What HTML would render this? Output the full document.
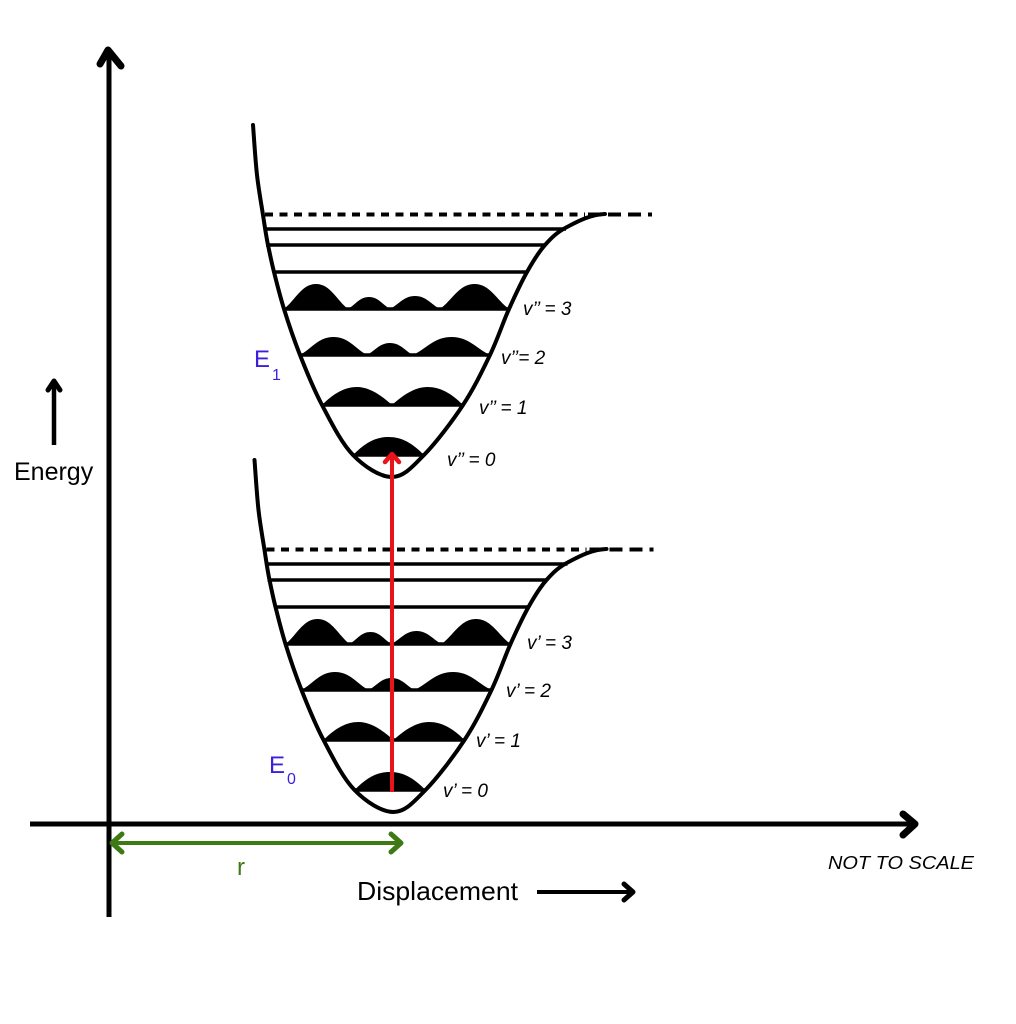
<!DOCTYPE html>
<html>
<head>
<meta charset="utf-8">
<style>
html,body{margin:0;padding:0;background:#fff;}
svg{display:block;}
text{font-family:"Liberation Sans",Arial,sans-serif;}
</style>
</head>
<body>
<svg width="1016" height="1024" viewBox="0 0 1016 1024" xmlns="http://www.w3.org/2000/svg">
<rect width="1016" height="1024" fill="#fff"/>
<defs>
<g id="well">
  <path d="M253,125 C253.7,133.3 255.3,160 257,175 C258.7,190 261.2,203.3 263,215 C264.8,226.7 266,235.5 268,245 C270,254.5 271.3,261.3 274,272 C276.7,282.7 279.7,295.2 284,309 C288.3,322.8 293.7,339 300,355 C306.3,371 313.2,388.3 322,405 C330.8,421.7 341.3,443 353,455 C364.7,467 380.2,477 392,477 C403.8,477 412.2,467 424,455 C435.8,443 452,421.7 463,405 C474,388.3 482.3,371 490,355 C497.7,339 502.8,322.8 509,309 C515.2,295.2 521,282.7 527,272 C533,261.3 538.3,252.5 545,245 C551.7,237.5 557,232.2 567,227 C577,221.8 590,214.5 605,214" fill="none" stroke="#000" stroke-width="4" stroke-linecap="round"/>
  <line x1="265" y1="214.5" x2="585" y2="214.5" stroke="#000" stroke-width="4" stroke-dasharray="8 6.5"/>
  <line x1="588" y1="214.5" x2="652" y2="214.5" stroke="#000" stroke-width="4" stroke-dasharray="13 7"/>
  <g stroke="#000" stroke-width="3.5">
    <line x1="265" y1="229" x2="566" y2="229"/>
    <line x1="266" y1="245" x2="545" y2="245"/>
    <line x1="274" y1="272" x2="527" y2="272"/>
    <line x1="284" y1="309" x2="509" y2="309"/>
    <line x1="300" y1="355" x2="490" y2="355"/>
    <line x1="322" y1="405" x2="463" y2="405"/>
    <line x1="353" y1="455" x2="424" y2="455"/>
  </g>
  <g fill="#000">
    <path d="M284 309 C295.2 300.25 301.6 284 316 284 C330.4 284 336.8 300.25 348 309Z"/>
    <path d="M348 309 C355.35 304.8 359.55 297 369 297 C378.45 297 382.65 304.8 390 309Z"/>
    <path d="M390 309 C398.75 304.45 403.75 296 415 296 C426.25 296 431.25 304.45 440 309Z"/>
    <path d="M440 309 C452.1 300.25 459 284 474.5 284 C490 284 496.9 300.25 509 309Z"/>
    <path d="M300 355 C311.7 348.7 318.4 337 333.5 337 C348.6 337 355.3 348.7 367 355Z"/>
    <path d="M367 355 C375 350.8 379.7 343 390 343 C400.3 343 405 350.8 413 355Z"/>
    <path d="M413 355 C426.5 348.7 434.2 337 451.5 337 C468.8 337 476.5 348.7 490 355Z"/>
    <path d="M322 405 C334 393 345 387 357 387 C369 387 381 395 392 405Z"/>
    <path d="M392 405 C403 395 415 387 427.5 387 C440 387 451 393 463 405Z"/>
    <path d="M353 455 C365 443 375 437 388.5 437 C402 437 412 443 424 455Z"/>
  </g>
</g>
</defs>

<line x1="109" y1="52" x2="109" y2="917" stroke="#000" stroke-width="5"/>
<polyline points="100,64 108,50 121,66" fill="none" stroke="#000" stroke-width="7" stroke-linecap="round" stroke-linejoin="round"/>
<line x1="30" y1="824" x2="912" y2="824" stroke="#000" stroke-width="5"/>
<polyline points="903,814 915,824 903,835" fill="none" stroke="#000" stroke-width="7" stroke-linecap="round" stroke-linejoin="round"/>

<use href="#well"/>
<use href="#well" transform="translate(1.5,335)"/>

<line x1="392" y1="792" x2="392" y2="457" stroke="#e8141a" stroke-width="4"/>
<polyline points="385,462 392,454 399,462" fill="none" stroke="#e8141a" stroke-width="4.5" stroke-linecap="round" stroke-linejoin="round"/>

<line x1="113" y1="843" x2="399" y2="843" stroke="#3d7a14" stroke-width="4"/>
<polyline points="122,834 112,843 122,852" fill="none" stroke="#3d7a14" stroke-width="5" stroke-linecap="round" stroke-linejoin="round"/>
<polyline points="391,834 401,843 391,852" fill="none" stroke="#3d7a14" stroke-width="5" stroke-linecap="round" stroke-linejoin="round"/>
<text x="237" y="875" font-size="24" fill="#3d7a14">r</text>

<line x1="54" y1="445" x2="54" y2="384" stroke="#000" stroke-width="4.5"/>
<polyline points="48,390 54,381 60,390" fill="none" stroke="#000" stroke-width="5" stroke-linecap="round" stroke-linejoin="round"/>
<text x="14" y="480" font-size="25" fill="#000">Energy</text>

<text x="357" y="900" font-size="26" fill="#000" textLength="161" lengthAdjust="spacingAndGlyphs">Displacement</text>
<line x1="537" y1="892" x2="630" y2="892" stroke="#000" stroke-width="4"/>
<polyline points="624,884 633,892 624,900" fill="none" stroke="#000" stroke-width="5" stroke-linecap="round" stroke-linejoin="round"/>

<text x="828" y="869" font-size="18" font-style="italic" fill="#000" textLength="146" lengthAdjust="spacingAndGlyphs">NOT TO SCALE</text>

<text x="254" y="367" font-size="24" fill="#3c1fdc">E</text>
<text x="272" y="380" font-size="16" fill="#3c1fdc">1</text>
<text x="269" y="773" font-size="24" fill="#3c1fdc">E</text>
<text x="287" y="784" font-size="16" fill="#3c1fdc">0</text>

<g font-size="19" font-style="italic" fill="#000">
  <text x="523" y="315">v’’ = 3</text>
  <text x="501" y="364">v’’= 2</text>
  <text x="479" y="414">v’’ = 1</text>
  <text x="447" y="466">v’’ = 0</text>
  <text x="527" y="649">v’ = 3</text>
  <text x="506" y="697">v’ = 2</text>
  <text x="476" y="747">v’ = 1</text>
  <text x="443" y="797">v’ = 0</text>
</g>
</svg>
</body>
</html>
